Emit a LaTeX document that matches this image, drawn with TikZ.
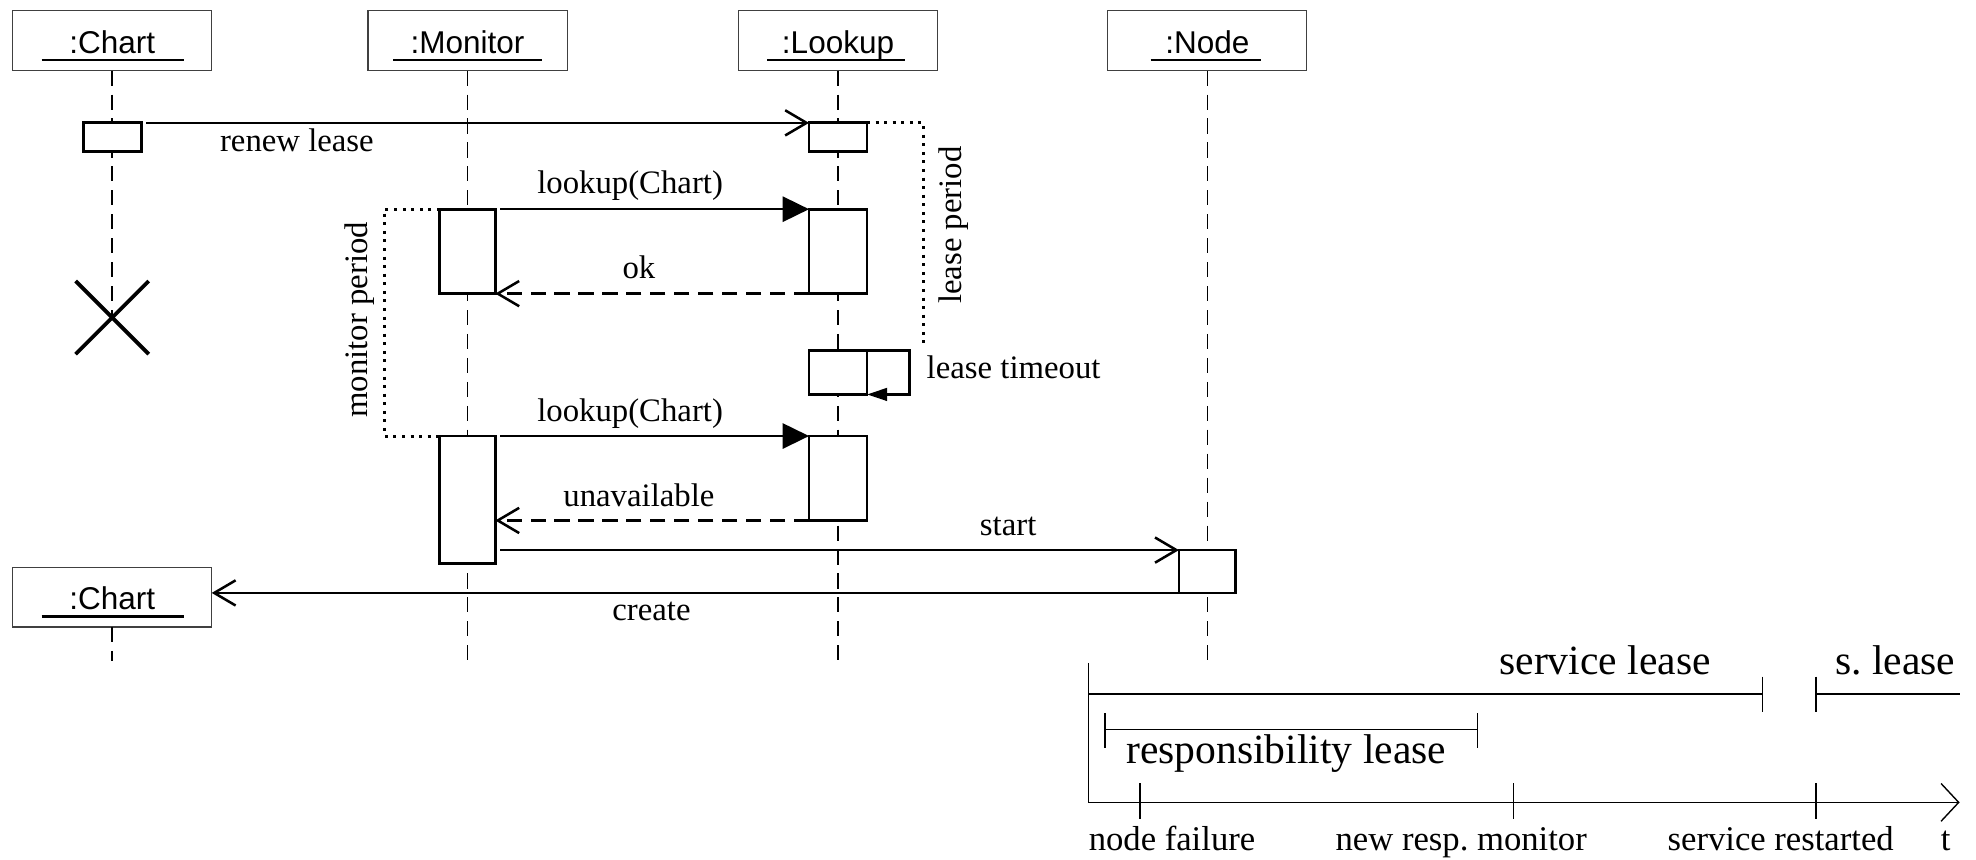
\documentclass[tikz,border=0pt]{standalone}
\usepackage{fontspec}
\setmainfont{Liberation Serif}
\newfontfamily\boxfont{Liberation Sans}
\usetikzlibrary{arrows.meta,calc}
\frenchspacing
\begin{document}
\begin{tikzpicture}[x=1pt,y=-1pt,
  objbox/.style={draw=black!75,line width=0.9pt,minimum width=158pt,minimum height=48pt,anchor=north west,inner sep=0pt,outer sep=0pt},
  objlabel/.style={font=\boxfont\fontsize{25}{30}\selectfont,anchor=base,inner sep=0pt},
  uline/.style={line width=1.8pt},
  act/.style={draw,line width=2.2pt,fill=white,anchor=north west,inner sep=0pt,outer sep=0pt},
  life/.style={line width=1.1pt,dash pattern=on 12pt off 7pt},
  msg/.style={line width=2pt},
  call/.style={msg,shorten <=4pt,-{Triangle[length=21pt,width=20pt]}},
  async/.style={msg,-{Straight Barb[length=17pt,width=20pt]}},
  reply/.style={msg,dash pattern=on 12pt off 7pt,-{Straight Barb[length=17pt,width=20pt]}},
  period/.style={line width=2.4pt,dash pattern=on 2.4pt off 4.4pt},
  lbl/.style={font=\fontsize{26}{30}\selectfont,anchor=base,inner sep=0pt},
  tline/.style={line width=1.1pt},
  biglbl/.style={font=\fontsize{33}{38}\selectfont,anchor=base,inner sep=0pt},
  smalllbl/.style={font=\fontsize{27.5}{32}\selectfont,anchor=base,inner sep=0pt},
]
\useasboundingbox (0,0) rectangle (1568,682);

% object boxes
\node[objbox] (chartA) at (10,8) {};
\node[objbox] (monitor) at (292,8) {};
\node[objbox] (lookup) at (586,8) {};
\node[objbox] (node) at (879,8) {};
\node[objbox,minimum height=47.5pt] (chartB) at (10,450) {};

\node[objlabel] (chartAl) at ($(chartA.south)+(0,-13.7)$) {:Chart};
\node[objlabel] (monitorl) at ($(monitor.south)+(0,-13.7)$) {:Monitor};
\node[objlabel] (lookupl) at ($(lookup.south)+(0,-13.7)$) {:Lookup};
\node[objlabel] (nodel) at ($(node.south)+(0,-13.7)$) {:Node};
\node[objlabel] (chartBl) at ($(chartB.south)+(0,-13.5)$) {:Chart};

\draw[uline] ($(chartA.south west)+(23,-8.4)$) -- ($(chartA.south east)+(-22,-8.4)$);
\draw[uline] ($(monitor.south west)+(20,-8.4)$) -- ($(monitor.south east)+(-20,-8.4)$);
\draw[uline] ($(lookup.south west)+(23,-8.4)$) -- ($(lookup.south east)+(-26,-8.4)$);
\draw[uline] ($(node.south west)+(34,-8.4)$) -- ($(node.south east)+(-36,-8.4)$);
\draw[uline] ($(chartB.south west)+(23,-8.4)$) -- ($(chartB.south east)+(-22,-8.4)$);

% destruction mark
\coordinate (xc) at (89,252);
\draw[life] (chartA.south) -- (xc);
\draw[line width=3pt] ($(xc)+(-29,-29)$) -- ($(xc)+(29,29)$);
\draw[line width=3pt] ($(xc)+(-29,29)$) -- ($(xc)+(29,-29)$);

% lifelines
\draw[life] (monitor.south) -- ++(0,470);
\draw[life] (lookup.south) -- ++(0,470);
\draw[life] (node.south) -- ++(0,470);
\draw[life] (chartB.south) -- ++(0,27);

% activations
\node[act,minimum width=46pt,minimum height=23pt] (aChart) at (66,97.5) {};
\node[act,minimum width=46pt,minimum height=23pt] (aLk0) at (642,97.5) {};
\node[act,minimum width=44pt,minimum height=67pt] (aMon1) at (349,166) {};
\node[act,minimum width=46pt,minimum height=67pt] (aLk1) at (642,166) {};
\node[act,minimum width=46pt,minimum height=35pt] (aLk2) at (642,278) {};
\node[act,minimum width=44pt,minimum height=101pt] (aMon2) at (349,346) {};
\node[act,minimum width=46pt,minimum height=67pt] (aLk3) at (642,346) {};
\node[act,minimum width=45pt,minimum height=34pt] (aNode) at (935.5,436.5) {};

% periods
\coordinate (lpEnd) at (733,276);
\draw[period] (aLk0.north east) -| (lpEnd);
\coordinate (mpMid) at (305,256);
\draw[period] (aMon1.north west) -| (mpMid) |- (aMon2.north west);

% messages
\draw[async,shorten <=4pt] (aChart.north east) -- (aLk0.north west);
\draw[call] (aMon1.north east) -- (aLk1.north west);
\draw[reply] (aLk1.south west) -- (aMon1.south east);
\draw[line width=2.2pt,-{Triangle[length=16pt,width=10pt]}] (aLk2.north east) -- ++(34,0) |- (aLk2.south east);
\draw[call] (aMon2.north east) -- (aLk3.north west);
\draw[reply] (aLk3.south west) -- (aLk3.south west -| aMon2.east);
\draw[async,shorten <=4pt] (aNode.north west -| aMon2.east) -- (aNode.north west);
\draw[async] (aNode.south west) -- (aNode.south west -| chartB.east);

% labels
\node[lbl] (t1) at (235.6,120.3) {renew lease};
\node[lbl] (t2) at (500,153.6) {lookup(Chart)};
\node[lbl] (t3) at (507,220.8) {ok};
\node[lbl] (t4) at (500,334.6) {lookup(Chart)};
\node[lbl] (t5) at (507,402) {unavailable};
\node[lbl] (t6) at (800,424.6) {start};
\node[lbl] (t7) at (517,492) {create};
\node[lbl] (t8) at (804.3,300) {lease timeout};
\node[font=\fontsize{26}{30}\selectfont,rotate=90,inner sep=0pt] (t9) at (757,178.6) {lease period};
\node[font=\fontsize{26}{30}\selectfont,rotate=90,inner sep=0pt] (t10) at (285,253.8) {monitor period};

% time line
\coordinate (tTop) at (863.7,526);
\coordinate (tO) at (863.7,636.7);
\coordinate (tEnd) at (1555,636.7);
\draw[tline] (tTop) -- (tO);
\draw[tline,-{Straight Barb[length=14pt,width=30pt]}] (tO) -- (tEnd);

\coordinate (slA) at (863.7,550.7);
\coordinate (slB) at (1398.8,550.7);
\draw[tline] (slA) -- (slB);
\draw[tline] (slB) ++(0,-13.7) -- ++(0,27.7);

\coordinate (s2A) at (1441,550.7);
\coordinate (s2B) at (1555,550.7);
\draw[tline] (s2A) -- (s2B);
\draw[tline] (s2A) ++(0,-13.7) -- ++(0,27.7);

\coordinate (rA) at (876.8,578.7);
\coordinate (rB) at (1172.5,578.7);
\draw[tline] (rA) -- (rB);
\draw[tline] (rA) ++(0,-12.7) -- ++(0,27.7);
\draw[tline] (rB) ++(0,-12.7) -- ++(0,27.7);

\coordinate (e1) at (904.7,636.7);
\coordinate (e2) at (1201,636.7);
\coordinate (e3) at (1441,636.7);
\foreach \e in {e1,e2,e3} \draw[tline] (\e) ++(0,-15.2) -- ++(0,28.5);

\node[biglbl] (sl) at (1273.6,535.6) {service lease};
\node[biglbl] (s2) at (1504,535.6) {s. lease};
\node[biglbl] (rl) at (1020.7,605.6) {responsibility lease};
\node[smalllbl] (n1) at (930,674.5) {node failure};
\node[smalllbl] (n2) at (1159.5,674.5) {new resp. monitor};
\node[smalllbl] (n3) at (1413,674.5) {service restarted};
\node[smalllbl] (n4) at (1544,674.5) {t};
\end{tikzpicture}
\end{document}
